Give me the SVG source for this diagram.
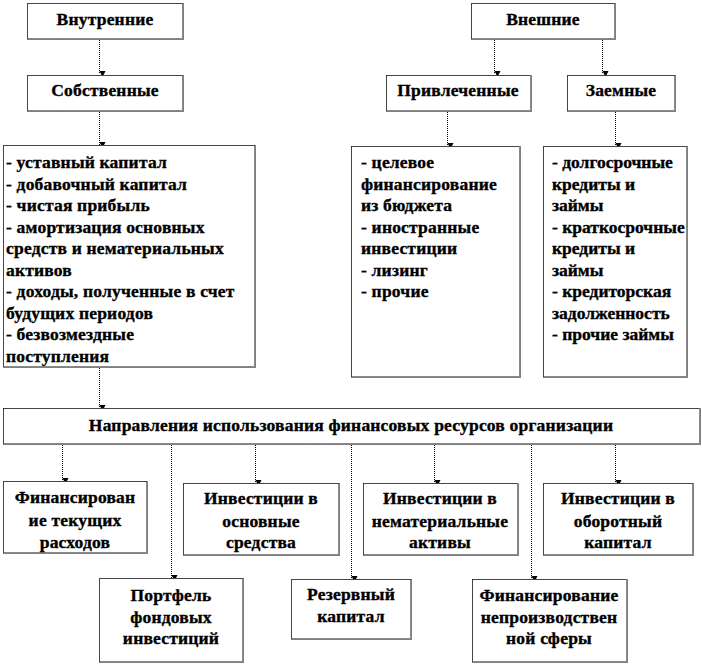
<svg xmlns="http://www.w3.org/2000/svg" width="702" height="666" viewBox="0 0 702 666" font-family="Liberation Serif, serif">
<style>
.bx{fill:#fff;stroke:#8a8a8a;stroke-width:1}
.bd{fill:none;stroke:#000;stroke-width:1;stroke-dasharray:1 1}
.t{font-size:17.5px;font-weight:bold;fill:#000;stroke:#000;stroke-width:0.35px;letter-spacing:0.2px}
.n{letter-spacing:0}
.c{text-anchor:middle}
.cn{stroke:#000;stroke-width:1;stroke-dasharray:1 1;fill:none}
</style>
<defs>
<marker id="ah" markerUnits="userSpaceOnUse" markerWidth="8" markerHeight="8" refX="4" refY="7" orient="auto-start-reverse" viewBox="0 0 8 8">
<path d="M1,1 L7,1 L4,7 z" fill="#000" transform="rotate(-90 4 4)"/>
</marker>
</defs>
<rect width="702" height="666" fill="#fff"/>
<g id="connectors">
<path class="cn" d="M99.5,40 V74" marker-end="url(#ah)"/>
<path class="cn" d="M99.5,112 V145" marker-end="url(#ah)"/>
<path class="cn" d="M494.5,40 V74" marker-end="url(#ah)"/>
<path class="cn" d="M602.5,40 V74" marker-end="url(#ah)"/>
<path class="cn" d="M447.5,112 V146" marker-end="url(#ah)"/>
<path class="cn" d="M615.5,112 V146" marker-end="url(#ah)"/>
<path class="cn" d="M99.5,368 V408" marker-end="url(#ah)"/>
<path class="cn" d="M62.5,445 V481" marker-end="url(#ah)"/>
<path class="cn" d="M171.5,445 V578" marker-end="url(#ah)"/>
<path class="cn" d="M255.5,445 V483" marker-end="url(#ah)"/>
<path class="cn" d="M351.5,445 V579" marker-end="url(#ah)"/>
<path class="cn" d="M434.5,445 V483" marker-end="url(#ah)"/>
<path class="cn" d="M531.5,445 V579" marker-end="url(#ah)"/>
<path class="cn" d="M615.5,445 V483" marker-end="url(#ah)"/>
</g>
<g id="vnutrennie" class="t">
<rect class="bx" x="27.5" y="3.5" width="155" height="35"/>
<path class="bd" d="M27.5,3.5 H182.5 M183.5,3.5 V39.5 H27.5 V3.5"/>
<text class="c" x="105" y="25">Внутренние</text>
</g>
<g id="sobstvennye" class="t">
<rect class="bx" x="27.5" y="75.5" width="155" height="35"/>
<path class="bd" d="M27.5,75.5 H182.5 M183.5,75.5 V111.5 H27.5 V75.5"/>
<text class="c" x="105" y="96">Собственные</text>
</g>
<g id="vneshnie" class="t">
<rect class="bx" x="471.5" y="3.5" width="143" height="35"/>
<path class="bd" d="M471.5,3.5 H614.5 M615.5,3.5 V39.5 H471.5 V3.5"/>
<text class="c" x="543" y="25">Внешние</text>
</g>
<g id="privlechennye" class="t">
<rect class="bx" x="386.5" y="75.5" width="144" height="35"/>
<path class="bd" d="M386.5,75.5 H530.5 M531.5,75.5 V111.5 H386.5 V75.5"/>
<text class="c" x="458" y="96">Привлеченные</text>
</g>
<g id="zaemnye" class="t">
<rect class="bx" x="567.5" y="75.5" width="107" height="35"/>
<path class="bd" d="M567.5,75.5 H674.5 M675.5,75.5 V111.5 H567.5 V75.5"/>
<text class="c" x="621" y="96">Заемные</text>
</g>
<g id="sobstv-list" class="t">
<rect class="bx" x="3.5" y="145.5" width="251" height="221"/>
<path class="bd" d="M3.5,145.5 H254.5 M255.5,145.5 V367.5 H3.5 V145.5"/>
<text x="6" y="168">- уставный капитал</text>
<text x="6" y="190">- добавочный капитал</text>
<text x="6" y="211">- чистая прибыль</text>
<text x="6" y="233">- амортизация основных</text>
<text x="6" y="254">средств и нематериальных</text>
<text x="6" y="276">активов</text>
<text x="6" y="297">- доходы, полученные в счет</text>
<text x="6" y="319">будущих периодов</text>
<text x="6" y="340">- безвозмездные</text>
<text x="6" y="362">поступления</text>
</g>
<g id="privl-list" class="t">
<rect class="bx" x="351.5" y="146.5" width="168" height="230"/>
<path class="bd" d="M351.5,146.5 H519.5 M520.5,146.5 V377.5 H351.5 V146.5"/>
<text x="361" y="168">- целевое</text>
<text x="361" y="190">финансирование</text>
<text x="361" y="211">из бюджета</text>
<text x="361" y="233">- иностранные</text>
<text x="361" y="254">инвестиции</text>
<text x="361" y="276">- лизинг</text>
<text x="361" y="297">- прочие</text>
</g>
<g id="zaem-list" class="t n">
<rect class="bx" x="543.5" y="146.5" width="143" height="230"/>
<path class="bd" d="M543.5,146.5 H686.5 M687.5,146.5 V377.5 H543.5 V146.5"/>
<text x="552" y="168">- долгосрочные</text>
<text x="552" y="190">кредиты и</text>
<text x="552" y="211">займы</text>
<text x="552" y="233">- краткосрочные</text>
<text x="552" y="254">кредиты и</text>
<text x="552" y="276">займы</text>
<text x="552" y="297">- кредиторская</text>
<text x="552" y="319">задолженность</text>
<text x="552" y="340">- прочие займы</text>
</g>
<g id="napravleniya" class="t">
<rect class="bx" x="3.5" y="408.5" width="696" height="35"/>
<path class="bd" d="M3.5,408.5 H699.5 M700.5,408.5 V444.5 H3.5 V408.5"/>
<text class="c" x="351" y="431">Направления использования финансовых ресурсов организации</text>
</g>
<g id="tekushie" class="t">
<rect class="bx" x="3.5" y="481.5" width="143" height="71"/>
<path class="bd" d="M3.5,481.5 H146.5 M147.5,481.5 V553.5 H3.5 V481.5"/>
<text class="c" x="75" y="503">Финансирован</text>
<text class="c" x="75" y="526">ие текущих</text>
<text class="c" x="75" y="548">расходов</text>
</g>
<g id="osnovnye" class="t">
<rect class="bx" x="183.5" y="483.5" width="155" height="71"/>
<path class="bd" d="M183.5,483.5 H338.5 M339.5,483.5 V555.5 H183.5 V483.5"/>
<text class="c" x="261" y="504">Инвестиции в</text>
<text class="c" x="261" y="527">основные</text>
<text class="c" x="261" y="548">средства</text>
</g>
<g id="nematerialnye" class="t">
<rect class="bx" x="363.5" y="483.5" width="154" height="71"/>
<path class="bd" d="M363.5,483.5 H517.5 M518.5,483.5 V555.5 H363.5 V483.5"/>
<text class="c" x="440" y="504">Инвестиции в</text>
<text class="c" x="440" y="527">нематериальные</text>
<text class="c" x="440" y="548">активы</text>
</g>
<g id="oborotnyi" class="t">
<rect class="bx" x="543.5" y="483.5" width="149" height="71"/>
<path class="bd" d="M543.5,483.5 H692.5 M693.5,483.5 V555.5 H543.5 V483.5"/>
<text class="c" x="618" y="504">Инвестиции в</text>
<text class="c" x="618" y="527">оборотный</text>
<text class="c" x="618" y="548">капитал</text>
</g>
<g id="portfel" class="t">
<rect class="bx" x="99.5" y="578.5" width="143" height="83"/>
<path class="bd" d="M99.5,578.5 H242.5 M243.5,578.5 V662.5 H99.5 V578.5"/>
<text class="c" x="171" y="601">Портфель</text>
<text class="c" x="171" y="623">фондовых</text>
<text class="c" x="171" y="644">инвестиций</text>
</g>
<g id="rezervnyi" class="t">
<rect class="bx" x="291.5" y="579.5" width="119" height="59"/>
<path class="bd" d="M291.5,579.5 H410.5 M411.5,579.5 V639.5 H291.5 V579.5"/>
<text class="c" x="351" y="600">Резервный</text>
<text class="c" x="351" y="622">капитал</text>
</g>
<g id="neproizv" class="t">
<rect class="bx" x="472.5" y="579.5" width="154" height="82"/>
<path class="bd" d="M472.5,579.5 H626.5 M627.5,579.5 V662.5 H472.5 V579.5"/>
<text class="c" x="549" y="601">Финансирование</text>
<text class="c" x="549" y="623">непроизводствен</text>
<text class="c" x="549" y="644">ной сферы</text>
</g>
</svg>
